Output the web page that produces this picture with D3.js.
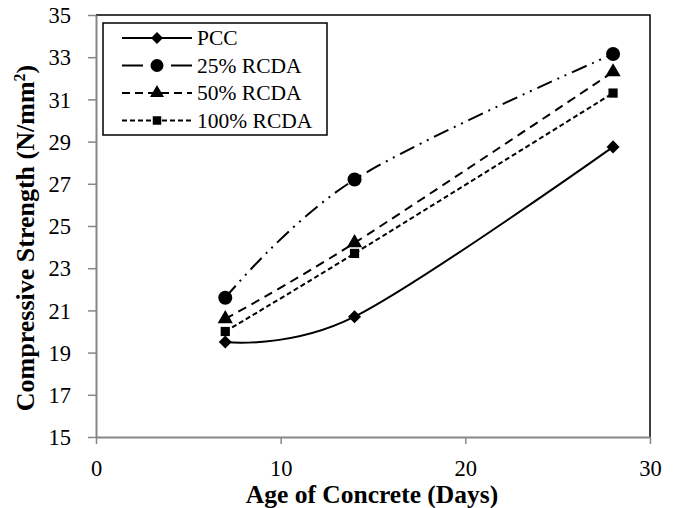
<!DOCTYPE html>
<html>
<head>
<meta charset="utf-8">
<script src="https://cdn.jsdelivr.net/npm/d3@7"></script>
<style>
  body { margin: 0; background: #fff; }
  svg { display: block; }
</style>
</head>
<body>
<div id="chart"></div>
<script>
// data
const days = [7, 14, 28]
const seriesNames = ['PCC', '25% RCDA', '50% RCDA', '100% RCDA']
const pcc = [19.5, 20.7, 28.75]
const rcda25 = [21.6, 27.2, 33.15]
const rcda50 = [20.6, 24.2, 32.3]
const rcda100 = [20.0, 23.7, 31.3]
const xTicks = [0, 10, 20, 30]
const yTicks = [15, 17, 19, 21, 23, 25, 27, 29, 31, 33, 35]

const W = 677, H = 508
const margin = { top: 15, right: 27, bottom: 71, left: 96 }
const serif = '"Liberation Serif", "Times New Roman", serif'

const svg = d3.select('#chart').append('svg')
  .attr('width', W).attr('height', H)

const x = d3.scaleLinear().domain([0, 30]).range([margin.left, W - margin.right])
const y = d3.scaleLinear().domain([15, 35]).range([H - margin.bottom, margin.top])

// plot frame (top + right black)
svg.append('path')
  .attr('d', `M${x(0)},${y(35)}H${x(30)}V${y(15)}`)
  .attr('fill', 'none').attr('stroke', '#000').attr('stroke-width', 1.5)

// axes
const xAxis = svg.append('g')
  .attr('transform', `translate(0,${y(15)})`)
  .call(d3.axisBottom(x).tickValues(xTicks).tickSize(7).tickPadding(16).tickSizeOuter(0))
const yAxis = svg.append('g')
  .attr('transform', `translate(${x(0)},0)`)
  .call(d3.axisLeft(y).tickValues(yTicks).tickSize(8).tickPadding(17).tickSizeOuter(0))

;[xAxis, yAxis].forEach(g => {
  g.select('.domain').attr('stroke', '#868686').attr('stroke-width', 2)
  g.selectAll('.tick line').attr('stroke', '#868686').attr('stroke-width', 1.5)
  g.selectAll('.tick text')
    .attr('font-family', serif)
    .attr('font-size', 22.5).attr('fill', '#000')
})
yAxis.selectAll('.tick text').attr('dy', '0.34em')

// axis titles
svg.append('text')
  .attr('x', 372).attr('y', 503)
  .attr('text-anchor', 'middle')
  .attr('font-family', serif)
  .attr('font-weight', 'bold').attr('font-size', 25.5)
  .text('Age of Concrete (Days)')

svg.append('text')
  .attr('transform', `translate(34,${(y(15) + y(35)) / 2 + 12}) rotate(-90)`)
  .attr('text-anchor', 'middle')
  .attr('font-family', serif)
  .attr('font-weight', 'bold').attr('font-size', 26)
  .html('Compressive Strength (N/mm<tspan dy="-9" font-size="16">2</tspan><tspan dy="9">)</tspan>')

// series
const series = [
  { name: seriesNames[0], values: pcc, dash: null, legendDash: null, symbol: d3.symbolSquare, size: 85, rotate: 45 },
  { name: seriesNames[1], values: rcda25, dash: '16,6,2,6,2,6', legendDash: '21,28,21', symbol: d3.symbolCircle, size: 155, rotate: 0 },
  { name: seriesNames[2], values: rcda50, dash: '9,6', legendDash: '8,5', symbol: d3.symbolTriangle, size: 100, rotate: 0 },
  { name: seriesNames[3], values: rcda100, dash: '5,3', legendDash: '5,3', symbol: d3.symbolSquare, size: 85, rotate: 0 }
]

const line = d3.line()
  .x(d => x(d[0]))
  .y(d => y(d[1]))
  .curve(d3.curveCatmullRom.alpha(0))

series.forEach(s => {
  const pts = days.map((d, i) => [d, s.values[i]])
  svg.append('path')
    .datum(pts)
    .attr('d', line)
    .attr('fill', 'none')
    .attr('stroke', '#000')
    .attr('stroke-width', 2)
    .attr('stroke-dasharray', s.dash)

  svg.append('g').selectAll('path')
    .data(pts)
    .join('path')
    .attr('d', d3.symbol().type(s.symbol).size(s.size))
    .attr('transform', d => `translate(${x(d[0])},${y(d[1])}) rotate(${s.rotate})`)
    .attr('fill', '#000')
})

// legend
const legend = svg.append('g')
legend.append('rect')
  .attr('x', 103).attr('y', 23).attr('width', 224).attr('height', 112)
  .attr('fill', '#fff').attr('stroke', '#000').attr('stroke-width', 1.5)

series.forEach((s, i) => {
  const ly = 38 + i * 27.5
  legend.append('line')
    .attr('x1', 122).attr('x2', 192).attr('y1', ly).attr('y2', ly)
    .attr('stroke', '#000').attr('stroke-width', 2)
    .attr('stroke-dasharray', s.legendDash)
  legend.append('path')
    .attr('d', d3.symbol().type(s.symbol).size(s.size * 0.85))
    .attr('transform', `translate(157,${ly}) rotate(${s.rotate})`)
    .attr('fill', '#000')
  legend.append('text')
    .attr('x', 197).attr('y', ly + 7)
    .attr('font-family', serif)
    .attr('font-size', 21.5)
    .text(s.name)
})
</script>
</body>
</html>
